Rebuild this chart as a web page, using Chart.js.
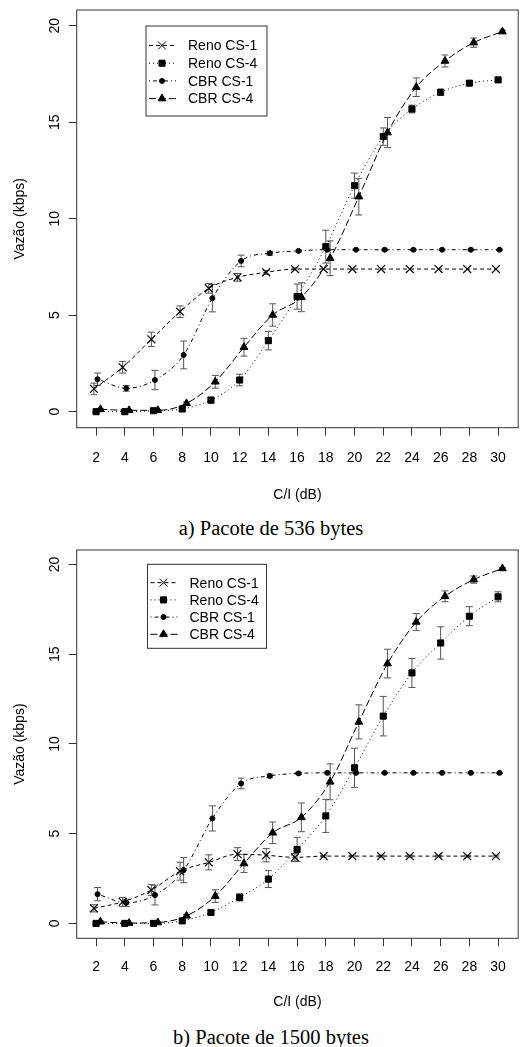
<!DOCTYPE html>
<html>
<head>
<meta charset="utf-8">
<script src="https://cdn.jsdelivr.net/npm/chart.js@4.4.1/dist/chart.umd.min.js"></script>
<style>
  body { margin: 0; background: #fff; }
  #page { position: relative; width: 525px; height: 1047px; overflow: hidden; }
  canvas { position: absolute; left: 0; }
  .caption {
    position: absolute; left: 0; width: 542px; text-align: center;
    font: 20.5px "Liberation Serif", "Times New Roman", serif; line-height: 24px; color: #000;
  }
</style>
</head>
<body>
<div id="page">
  <canvas id="chart-a" width="525" height="510" style="top:0"></canvas>
  <div class="caption" style="top:516px">a) Pacote de 536 bytes</div>
  <canvas id="chart-b" width="525" height="475" style="top:540px"></canvas>
  <div class="caption" style="top:1025px">b) Pacote de 1500 bytes</div>
</div>
<script>
// C/I values (dB) and axis ticks
const snrValues = [2, 4, 6, 8, 10, 12, 14, 16, 18, 20, 22, 24, 26, 28, 30];
const xTicks = [2, 4, 6, 8, 10, 12, 14, 16, 18, 20, 22, 24, 26, 28, 30];
const yTicks = [0, 5, 10, 15, 20];
const seriesNames = ['Reno CS-1', 'Reno CS-4', 'CBR CS-1', 'CBR CS-4'];

// a) 536 bytes - mean throughput (kbps)
const renoCs1A = [1.18, 2.3, 3.75, 5.18, 6.39, 6.96, 7.22, 7.39, 7.39, 7.39, 7.39, 7.39, 7.39, 7.39, 7.39];
const renoCs4A = [0, 0, 0.05, 0.14, 0.6, 1.64, 3.68, 5.96, 8.55, 11.71, 14.25, 15.68, 16.55, 17.02, 17.19];
const cbrCs1A = [1.68, 1.21, 1.64, 2.94, 5.88, 7.81, 8.21, 8.33, 8.39, 8.39, 8.39, 8.39, 8.39, 8.39, 8.39];
const cbrCs4A = [0.12, 0.07, 0.07, 0.43, 1.55, 3.34, 5.01, 5.93, 7.95, 11.14, 14.46, 16.81, 18.17, 19.12, 19.69];
// a) half width of error bars
const renoCs1ErrA = [0.3, 0.3, 0.37, 0.3, 0.25, 0.2, 0.1, 0.05, 0, 0, 0, 0, 0, 0, 0];
const renoCs4ErrA = [0.05, 0.05, 0.05, 0.1, 0.15, 0.3, 0.48, 0.65, 0.85, 0.65, 0.45, 0.2, 0.15, 0.1, 0.1];
const cbrCs1ErrA = [0.32, 0.15, 0.5, 0.72, 0.71, 0.3, 0.1, 0.05, 0.03, 0.03, 0.03, 0.03, 0.03, 0.03, 0.03];
const cbrCs4ErrA = [0.05, 0.03, 0.03, 0.08, 0.33, 0.46, 0.58, 0.75, 0.9, 0.95, 0.78, 0.48, 0.31, 0.24, 0.08];

// b) 1500 bytes - mean throughput (kbps)
const renoCs1B = [0.84, 1.2, 1.86, 2.91, 3.4, 3.86, 3.8, 3.68, 3.75, 3.75, 3.75, 3.75, 3.75, 3.75, 3.75];
const renoCs4B = [0, 0, 0, 0.14, 0.61, 1.45, 2.47, 4.12, 5.99, 8.67, 11.55, 13.96, 15.63, 17.12, 18.2];
const cbrCs1B = [1.63, 1.15, 1.58, 2.97, 5.85, 7.8, 8.22, 8.36, 8.39, 8.39, 8.39, 8.39, 8.39, 8.39, 8.39];
const cbrCs4B = [0.09, 0.02, 0.05, 0.42, 1.52, 3.34, 5.05, 5.91, 7.89, 11.23, 14.48, 16.8, 18.23, 19.16, 19.78];
// b) half width of error bars
const renoCs1ErrB = [0.2, 0.25, 0.3, 0.5, 0.42, 0.36, 0.37, 0.22, 0.05, 0.05, 0.05, 0.05, 0.05, 0.05, 0.05];
const renoCs4ErrB = [0.05, 0.05, 0.05, 0.1, 0.1, 0.2, 0.47, 0.68, 0.92, 1.09, 1.1, 0.81, 0.9, 0.53, 0.28];
const cbrCs1ErrB = [0.37, 0.2, 0.55, 0.7, 0.7, 0.3, 0.1, 0.05, 0.03, 0.03, 0.03, 0.03, 0.03, 0.03, 0.03];
const cbrCs4ErrB = [0.05, 0.03, 0.03, 0.08, 0.35, 0.5, 0.6, 0.8, 1.0, 0.95, 0.8, 0.47, 0.3, 0.2, 0.05];

const axisColor = '#333';
const errColor = '#555';
const sansFont = '"Liberation Sans", Arial, Helvetica, sans-serif';

Chart.defaults.font.family = sansFont;
Chart.defaults.font.size = 14;
Chart.defaults.color = '#000';

// line / marker look of each series (same order as seriesNames)
const seriesStyles = [
    { dash: [4, 3], pointStyle: 'crossRot', radius: 5.6, pointBorderWidth: 1.2, shift: -0.15 },
    { dash: [1, 3], pointStyle: 'rect', radius: 4.3, pointBorderWidth: 1, shift: 0 },
    { dash: [1, 3, 4, 3], pointStyle: 'circle', radius: 2.5, pointBorderWidth: 1, shift: 0.1 },
    { dash: [7, 3], pointStyle: 'triangle', radius: 4.5, pointBorderWidth: 1, shift: 0.3 },
];

function buildDatasets(values, errors) {
    return seriesNames.map((name, i) => {
        const st = seriesStyles[i];
        return {
            label: name,
            data: snrValues.map((c, k) => ({ x: c + st.shift, y: values[i][k] })),
            errors: errors[i],
            borderColor: '#000',
            borderWidth: 1,
            borderDash: st.dash,
            fill: false,
            cubicInterpolationMode: 'monotone',
            pointStyle: st.pointStyle,
            pointRadius: st.radius,
            pointHoverRadius: st.radius,
            pointBackgroundColor: '#000',
            pointBorderColor: '#000',
            pointBorderWidth: st.pointBorderWidth,
        };
    });
}

// vertical error bars with caps, drawn under the markers
const errorBarsPlugin = {
    id: 'errorBars',
    beforeDatasetsDraw(chart) {
        const ctx = chart.ctx;
        const yScale = chart.scales.y;
        ctx.save();
        ctx.strokeStyle = errColor;
        ctx.lineWidth = 1;
        chart.data.datasets.forEach((ds, i) => {
            const meta = chart.getDatasetMeta(i);
            meta.data.forEach((pt, k) => {
                const e = ds.errors[k];
                if (!e) return;
                const v = ds.data[k].y;
                const top = yScale.getPixelForValue(v + e);
                const bot = yScale.getPixelForValue(v - e);
                ctx.beginPath();
                ctx.moveTo(pt.x, top);
                ctx.lineTo(pt.x, bot);
                ctx.moveTo(pt.x - 3.5, top);
                ctx.lineTo(pt.x + 3.5, top);
                ctx.moveTo(pt.x - 3.5, bot);
                ctx.lineTo(pt.x + 3.5, bot);
                ctx.stroke();
            });
        });
        ctx.restore();
    }
};

// plot frame, vertical y tick labels and the boxed legend
const framePlugin = {
    id: 'frame',
    afterDraw(chart, args, opts) {
        const ctx = chart.ctx;
        const area = chart.chartArea;
        const yScale = chart.scales.y;

        ctx.save();
        ctx.strokeStyle = axisColor;
        ctx.lineWidth = 1;
        ctx.strokeRect(area.left, area.top, area.right - area.left, area.bottom - area.top);

        // y tick labels, turned 90 degrees like the original
        ctx.fillStyle = '#000';
        ctx.font = '14px ' + sansFont;
        ctx.textAlign = 'center';
        ctx.textBaseline = 'middle';
        yTicks.forEach((v) => {
            ctx.setTransform(0, -1, 1, 0, area.left - 22, yScale.getPixelForValue(v));
            ctx.fillText(String(v), 0, 0);
        });
        ctx.setTransform(1, 0, 0, 1, 0, 0);

        // legend
        const lg = opts.legend;
        ctx.fillStyle = '#fff';
        ctx.fillRect(lg.left, lg.top, lg.width, lg.height);
        ctx.strokeStyle = axisColor;
        ctx.strokeRect(lg.left, lg.top, lg.width, lg.height);
        chart.data.datasets.forEach((ds, i) => {
            const y = lg.top + lg.firstRow + i * lg.rowGap;
            ctx.strokeStyle = '#000';
            ctx.lineWidth = 1;
            ctx.setLineDash(ds.borderDash);
            ctx.beginPath();
            ctx.moveTo(lg.left + 3, y);
            ctx.lineTo(lg.left + 30, y);
            ctx.stroke();
            ctx.setLineDash([]);
            ctx.fillStyle = '#000';
            ctx.strokeStyle = '#000';
            Chart.helpers.drawPoint(ctx, {
                pointStyle: ds.pointStyle,
                radius: ds.pointRadius,
                borderWidth: ds.pointBorderWidth,
            }, lg.left + 16, y);
            ctx.fillStyle = '#000';
            ctx.textAlign = 'left';
            ctx.textBaseline = 'middle';
            ctx.fillText(ds.label, lg.left + 42, y + 1);
        });
        ctx.restore();
    }
};

function makeChart(canvasId, datasets, cfg) {
    return new Chart(document.getElementById(canvasId), {
        type: 'line',
        data: { datasets: datasets },
        options: {
            responsive: false,
            animation: false,
            events: [],
            layout: { padding: { top: 10, right: 1.7, left: 0, bottom: 0 } },
            plugins: {
                legend: { display: false },
                tooltip: { enabled: false },
                frame: { legend: cfg.legend },
            },
            scales: {
                x: {
                    type: 'linear',
                    min: 0.65,
                    max: 31.4,
                    afterBuildTicks: (s) => { s.ticks = xTicks.map(v => ({ value: v })); },
                    afterFit: (s) => { s.height = cfg.xHeight; },
                    grid: { drawOnChartArea: false, drawTicks: true, tickLength: 8, color: axisColor },
                    border: { display: false },
                    ticks: { autoSkip: false, maxRotation: 0, padding: cfg.xTickPad, color: '#000' },
                    title: { display: true, text: 'C/I (dB)', color: '#000', padding: { top: 0, bottom: cfg.xTitlePad } },
                },
                y: {
                    type: 'linear',
                    min: -0.83,
                    max: 20.81,
                    afterBuildTicks: (s) => { s.ticks = yTicks.map(v => ({ value: v })); },
                    afterFit: (s) => { s.width = 76.7; },
                    grid: { drawOnChartArea: false, drawTicks: true, tickLength: 8, color: axisColor },
                    border: { display: false },
                    ticks: { display: false },
                    title: { display: true, text: 'Vazão (kbps)', color: '#000', padding: { top: 11.6, bottom: 0 } },
                },
            },
        },
        plugins: [errorBarsPlugin, framePlugin],
    });
}

makeChart('chart-a',
    buildDatasets([renoCs1A, renoCs4A, cbrCs1A, cbrCs4A], [renoCs1ErrA, renoCs4ErrA, cbrCs1ErrA, cbrCs4ErrA]),
    { xHeight: 82.3, xTickPad: 14.2, xTitlePad: 6.6, legend: { left: 146, top: 26, width: 121, height: 90, firstRow: 19.5, rowGap: 17.7 } });

makeChart('chart-b',
    buildDatasets([renoCs1B, renoCs4B, cbrCs1B, cbrCs4B], [renoCs1ErrB, renoCs4ErrB, cbrCs1ErrB, cbrCs4ErrB]),
    { xHeight: 76.7, xTickPad: 12.6, xTitlePad: 4.9, legend: { left: 147.5, top: 24.3, width: 119, height: 84, firstRow: 18.4, rowGap: 17.2 } });
</script>
</body>
</html>
